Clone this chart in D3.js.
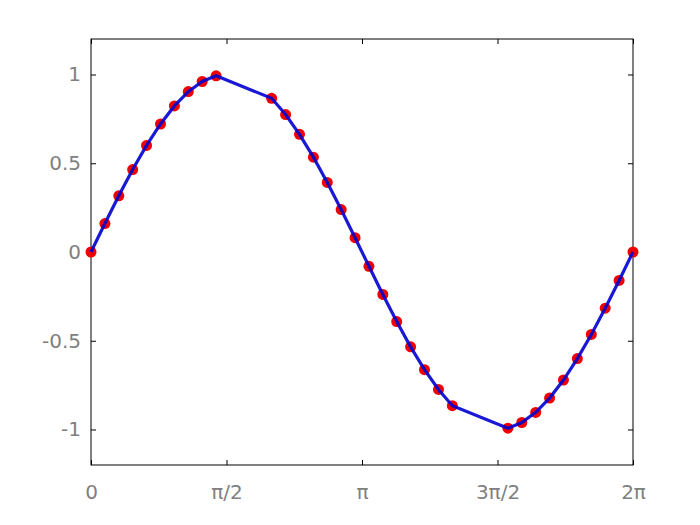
<!DOCTYPE html>
<html><head><meta charset="utf-8">
<script src="https://cdn.jsdelivr.net/npm/d3@7"></script>
<style>body{margin:0;background:#fff}svg{display:block}</style>
</head><body>
<script>
const xValues = [0, 0.161, 0.322, 0.483, 0.644, 0.806, 0.967, 1.128, 1.289, 1.450,
  2.094, 2.256, 2.417, 2.578, 2.739, 2.900, 3.061, 3.222, 3.383, 3.544, 3.705, 3.866, 4.028, 4.189,
  4.833, 4.994, 5.155, 5.316, 5.477, 5.638, 5.800, 5.961, 6.122, 6.283];
const yValues = [0, 0.1604, 0.3167, 0.4647, 0.6007, 0.7212, 0.8230, 0.9036, 0.9606, 0.9927,
  0.8660, 0.7745, 0.6631, 0.5345, 0.3920, 0.2393, 0.0805, -0.0805, -0.2393, -0.3920, -0.5345, -0.6631, -0.7745, -0.8660,
  -0.9927, -0.9606, -0.9036, -0.8230, -0.7212, -0.6007, -0.4647, -0.3167, -0.1604, 0];
const xTicks = [0, Math.PI/2, Math.PI, 3*Math.PI/2, 2*Math.PI];
const xTickLabels = ["0", "π/2", "π", "3π/2", "2π"];
const yTicks = [1, 0.5, 0, -0.5, -1];
const yTickLabels = ["1", "0.5", "0", "-0.5", "-1"];

const W = 700, H = 525;
const L = 91, R = 633, T = 39, B = 465;
const svg = d3.select("body").append("svg").attr("width", W).attr("height", H);
const x = d3.scaleLinear().domain([0, 2*Math.PI]).range([L, R]);
const y = d3.scaleLinear().domain([-1.2, 1.2]).range([B, T]);

function styleAxis(g){
  g.select(".domain").remove();
  g.selectAll(".tick line").attr("stroke", "#000");
  g.selectAll(".tick text").attr("fill", "#808080").style("font-family", "DejaVu Sans, sans-serif").style("font-size", "20px");
}
svg.append("g").attr("transform", `translate(0,${B})`)
  .call(d3.axisBottom(x).tickValues(xTicks).tickFormat((d,i)=>xTickLabels[i]).tickSizeInner(-5).tickPadding(20))
  .call(styleAxis);
svg.append("g").attr("transform", `translate(0,${T})`)
  .call(d3.axisTop(x).tickValues(xTicks).tickFormat("").tickSizeInner(-5))
  .call(styleAxis);
svg.append("g").attr("transform", `translate(${L},0)`)
  .call(d3.axisLeft(y).tickValues(yTicks).tickFormat((d,i)=>yTickLabels[i]).tickSizeInner(-5).tickPadding(10))
  .call(styleAxis);
svg.append("g").attr("transform", `translate(${R},0)`)
  .call(d3.axisRight(y).tickValues(yTicks).tickFormat("").tickSizeInner(-5))
  .call(styleAxis);

svg.append("rect").attr("x", L).attr("y", T).attr("width", R-L).attr("height", B-T)
  .attr("fill", "none").attr("stroke", "#000").attr("stroke-width", 1);

const pts = xValues.map((v,i)=>[v, yValues[i]]);
svg.append("g").selectAll("circle").data(pts).join("circle")
  .attr("cx", d=>x(d[0])).attr("cy", d=>y(d[1])).attr("r", 5.5).attr("fill", "#f00000");
svg.append("path").datum(pts)
  .attr("d", d3.line().x(d=>x(d[0])).y(d=>y(d[1])))
  .attr("fill", "none").attr("stroke", "#0000d0").attr("stroke-width", 3.2).attr("stroke-opacity", 0.9);
</script>
</body></html>
